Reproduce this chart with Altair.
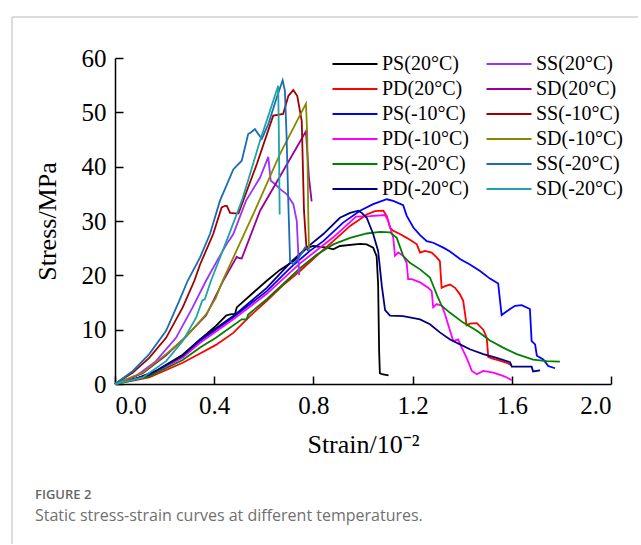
import altair as alt
import pandas as pd

legend_order = ["PS(20°C)", "PD(20°C)", "PS(-10°C)", "PD(-10°C)", "PS(-20°C)", "PD(-20°C)",
                "SS(20°C)", "SD(20°C)", "SS(-10°C)", "SD(-10°C)", "SS(-20°C)", "SD(-20°C)"]
colors = ["#000000", "#FF0000", "#0000FF", "#FF00FF", "#008000", "#000080",
          "#9B30FF", "#990099", "#A00000", "#888800", "#1B6DB3", "#1FA3A8"]

ps20_x = [0, 0.085, 0.165, 0.273, 0.343, 0.407, 0.448, 0.464, 0.484, 0.491, 0.557, 0.612, 0.665, 0.719,
          0.773, 0.799, 0.854, 0.880, 0.907, 0.988, 1.015, 1.041, 1.055, 1.061, 1.065, 1.068, 1.076, 1.103]
ps20_y = [0, 1.0, 2.4, 5.4, 8.2, 10.7, 12.6, 12.8, 12.9, 14.1, 16.8, 19.0, 21.0, 22.6,
          25.0, 25.4, 25.1, 24.8, 25.4, 25.8, 25.7, 25.1, 23.5, 18.3, 6.1, 2.0, 1.8, 1.6]

pd20_x = [0, 0.138, 0.273, 0.343, 0.407, 0.477, 0.544, 0.612, 0.678, 0.746, 0.813, 0.880, 0.948, 1.015,
          1.048, 1.082, 1.096, 1.109, 1.122, 1.149, 1.176, 1.197, 1.217, 1.230, 1.250, 1.277, 1.297, 1.310,
          1.317, 1.331, 1.351, 1.371, 1.391, 1.404, 1.418, 1.431, 1.459, 1.485, 1.499, 1.505, 1.519, 1.552,
          1.580, 1.600]
pd20_y = [0, 1.2, 3.9, 5.6, 7.2, 9.4, 12.5, 15.3, 18.2, 20.8, 23.6, 26.3, 29.1, 31.2,
          31.8, 31.9, 30.9, 28.8, 28.2, 27.6, 26.9, 26.3, 25.7, 24.2, 24.5, 24.2, 23.3, 22.6,
          17.7, 18.0, 18.3, 17.7, 16.5, 15.3, 10.8, 11.1, 11.2, 10.0, 8.5, 5.0, 4.7, 4.3,
          3.9, 3.4]

ps10_x = [0, 0.138, 0.273, 0.343, 0.477, 0.612, 0.710, 0.786, 0.840, 0.920, 0.988, 1.041, 1.096, 1.122,
          1.162, 1.176, 1.203, 1.230, 1.257, 1.283, 1.324, 1.351, 1.391, 1.431, 1.472, 1.512, 1.545, 1.559,
          1.580, 1.613, 1.640, 1.673, 1.680, 1.694, 1.701, 1.727, 1.747, 1.774]
ps10_y = [0, 1.6, 5.0, 7.9, 12.3, 17.1, 21.5, 24.5, 26.3, 29.7, 31.9, 33.1, 34.0, 33.7,
          32.9, 31.0, 28.8, 27.4, 26.3, 26.0, 25.1, 24.4, 23.0, 22.0, 20.8, 19.4, 18.5, 12.7,
          13.4, 14.4, 14.5, 13.8, 7.9, 7.3, 5.2, 4.5, 3.3, 2.9]

pd10_x = [0, 0.138, 0.273, 0.343, 0.477, 0.612, 0.746, 0.880, 0.972, 1.028, 1.089, 1.102, 1.122, 1.129,
          1.142, 1.162, 1.176, 1.182, 1.197, 1.230, 1.263, 1.277, 1.283, 1.297, 1.318, 1.331, 1.351, 1.364,
          1.384, 1.398, 1.418, 1.439, 1.459, 1.485, 1.525, 1.565, 1.580, 1.600]
pd10_y = [0, 1.6, 4.9, 7.6, 11.9, 16.6, 22.2, 27.0, 30.8, 30.9, 31.1, 30.0, 26.9, 23.6,
          24.2, 23.6, 22.3, 19.3, 19.3, 18.7, 17.7, 17.1, 14.1, 14.7, 14.4, 12.8, 9.8, 7.9,
          8.2, 6.7, 4.8, 2.4, 1.8, 2.4, 2.1, 1.5, 1.2, 0.7]

ps_20_x = [0, 0.138, 0.273, 0.343, 0.407, 0.511, 0.531, 0.537, 0.612, 0.678, 0.746, 0.813, 0.880, 0.948,
           1.015, 1.069, 1.109, 1.136, 1.162, 1.189, 1.230, 1.270, 1.297, 1.317, 1.351, 1.404, 1.459, 1.512,
           1.565, 1.620, 1.686, 1.741, 1.794]
ps_20_y = [0, 1.4, 4.4, 6.7, 8.5, 11.9, 11.9, 12.8, 15.6, 18.4, 21.3, 23.8, 25.7, 26.9,
           27.7, 28.0, 27.9, 26.9, 23.6, 22.3, 21.1, 19.6, 16.5, 14.4, 13.1, 11.3, 9.8, 8.0,
           6.7, 5.5, 4.5, 4.2, 4.1]

pd_20_x = [0, 0.138, 0.273, 0.343, 0.477, 0.612, 0.713, 0.773, 0.840, 0.907, 0.948, 0.981, 0.995, 1.015,
           1.041, 1.061, 1.076, 1.089, 1.109, 1.162, 1.230, 1.270, 1.310, 1.351, 1.391, 1.431, 1.485, 1.539,
           1.593, 1.600, 1.680, 1.686, 1.714]
pd_20_y = [0, 1.7, 5.2, 8.2, 12.5, 17.7, 22.6, 25.1, 27.6, 30.6, 31.5, 31.9, 31.5, 30.6,
           27.6, 24.5, 18.0, 13.6, 12.6, 12.5, 11.9, 11.0, 9.5, 8.2, 7.3, 6.4, 5.5, 4.8,
           4.0, 3.2, 3.2, 2.3, 2.5]

ss20_x = [0, 0.085, 0.165, 0.246, 0.313, 0.367, 0.407, 0.453, 0.463, 0.477, 0.528, 0.585, 0.618, 0.628,
          0.645, 0.665, 0.693, 0.719, 0.733, 0.743]
ss20_y = [0, 1.5, 4.2, 8.5, 14.1, 19.0, 22.3, 26.0, 26.6, 27.6, 33.7, 38.0, 41.8, 37.4,
          36.8, 35.9, 34.9, 33.1, 30.0, 20.0]

sd20_x = [0, 0.112, 0.206, 0.276, 0.367, 0.434, 0.491, 0.498, 0.511, 0.585, 0.665, 0.770, 0.782, 0.793]
sd20_y = [0, 2.0, 5.3, 8.3, 12.6, 18.8, 23.4, 23.2, 23.1, 31.9, 38.2, 46.5, 38.0, 33.6]

ss10_x = [0, 0.072, 0.138, 0.206, 0.273, 0.320, 0.343, 0.396, 0.430, 0.444, 0.451, 0.464, 0.484, 0.498,
          0.572, 0.638, 0.678, 0.699, 0.719, 0.735, 0.753, 0.762, 0.772, 0.779]
ss10_y = [0, 2.1, 4.8, 8.5, 14.1, 19.0, 22.0, 27.6, 32.5, 32.8, 32.8, 31.5, 31.4, 31.4,
          40.5, 49.4, 49.7, 53.0, 54.1, 53.0, 48.4, 31.9, 25.0, 24.5]

sd10_x = [0, 0.112, 0.206, 0.271, 0.281, 0.367, 0.407, 0.434, 0.564, 0.665, 0.770, 0.775, 0.779, 0.782]
sd10_y = [0, 2.1, 5.5, 8.0, 8.4, 12.8, 15.9, 19.0, 31.9, 42.3, 51.6, 46.0, 32.0, 25.0]

ss_20_x = [0, 0.072, 0.138, 0.206, 0.259, 0.293, 0.343, 0.383, 0.423, 0.477, 0.511, 0.537, 0.548, 0.564,
           0.592, 0.618, 0.652, 0.676, 0.685, 0.692, 0.699, 0.706, 0.719, 0.746, 0.766, 0.786]
ss_20_y = [0, 2.4, 5.5, 9.8, 15.3, 19.0, 23.3, 27.6, 33.7, 39.5, 41.1, 46.0, 46.3, 46.9,
           45.1, 47.8, 52.7, 55.9, 54.0, 45.4, 33.1, 22.6, 22.0, 23.6, 25.1, 24.8]

sd_20_x = [0, 0.112, 0.206, 0.273, 0.327, 0.352, 0.362, 0.387, 0.458, 0.511, 0.537, 0.585, 0.625, 0.658,
           0.661, 0.664]
sd_20_y = [0, 1.2, 4.2, 7.9, 12.2, 15.4, 15.6, 19.0, 27.3, 33.7, 37.5, 44.8, 50.3, 54.9,
           45.0, 31.2]

series = [
    ("PS(20°C)", ps20_x, ps20_y), ("PD(20°C)", pd20_x, pd20_y),
    ("PS(-10°C)", ps10_x, ps10_y), ("PD(-10°C)", pd10_x, pd10_y),
    ("PS(-20°C)", ps_20_x, ps_20_y), ("PD(-20°C)", pd_20_x, pd_20_y),
    ("SS(20°C)", ss20_x, ss20_y), ("SD(20°C)", sd20_x, sd20_y),
    ("SS(-10°C)", ss10_x, ss10_y), ("SD(-10°C)", sd10_x, sd10_y),
    ("SS(-20°C)", ss_20_x, ss_20_y), ("SD(-20°C)", sd_20_x, sd_20_y),
]

rows = []
for name, xs, ys in series:
    for i, (a, b) in enumerate(zip(xs, ys)):
        rows.append({"series": name, "strain": a, "stress": b, "idx": i})
df = pd.DataFrame(rows)

x_ticks = [0, 0.4, 0.8, 1.2, 1.6, 2.0]
y_ticks = [0, 10, 20, 30, 40, 50, 60]
serif = "Liberation Serif"
inward = {"expr": "-8"}

lines = alt.Chart(df).mark_line(strokeWidth=1.8).encode(
    x=alt.X("strain:Q", scale=alt.Scale(domain=[0, 2], nice=False, zero=False),
            axis=alt.Axis(values=x_ticks, format=".1f", title="Strain/10⁻²", tickSize=inward,
                          labelPadding=17, titlePadding=13)),
    y=alt.Y("stress:Q", scale=alt.Scale(domain=[0, 60], nice=False),
            axis=alt.Axis(values=y_ticks, title="Stress/MPa", tickSize=inward,
                          labelPadding=17, titlePadding=21)),
    color=alt.Color("series:N", scale=alt.Scale(domain=legend_order, range=colors),
                    legend=alt.Legend(title=None, orient="none", legendX=212, legendY=-4, columns=2,
                                      symbolType="M-1,0H9", symbolSize=81, symbolStrokeWidth=2,
                                      labelFont=serif, labelFontSize=20, labelColor="#000000",
                                      labelOffset=35, rowPadding=5, columnPadding=12, padding=0)),
    order="idx:Q",
)

frame_df = pd.DataFrame({"k": [0]})
left_rule = alt.Chart(frame_df).mark_rule(color="#d0d0d0", strokeWidth=1.5).encode(
    x=alt.value(-103), y=alt.value(-41), y2=alt.value(486))
top_rule = alt.Chart(frame_df).mark_rule(color="#d0d0d0", strokeWidth=1.5).encode(
    x=alt.value(-103), x2=alt.value(523), y=alt.value(-41))

chart = alt.layer(top_rule, left_rule, lines).properties(
    width=496, height=326,
    padding={"left": 11, "top": 16, "right": 0, "bottom": 0},
    title=alt.TitleParams(text="FIGURE 2",
                          subtitle="Static stress-strain curves at different temperatures.",
                          orient="bottom", anchor="start", frame="group", offset=-56, dx=-80,
                          font="Open Sans", fontSize=13, fontWeight=600, color="#666666",
                          subtitleFont="Open Sans", subtitleFontSize=16, subtitleColor="#707070",
                          subtitlePadding=6),
).configure_view(stroke=None).configure_axis(
    domainColor="#000000", domainWidth=1.5, tickColor="#000000", tickWidth=1.5,
    labelFont=serif, labelFontSize=25, labelColor="#000000",
    titleFont=serif, titleFontSize=26, titleFontWeight="normal", titleColor="#000000",
    grid=False,
)

chart.save("out.html", embed_options={"renderer": "svg", "actions": False})
